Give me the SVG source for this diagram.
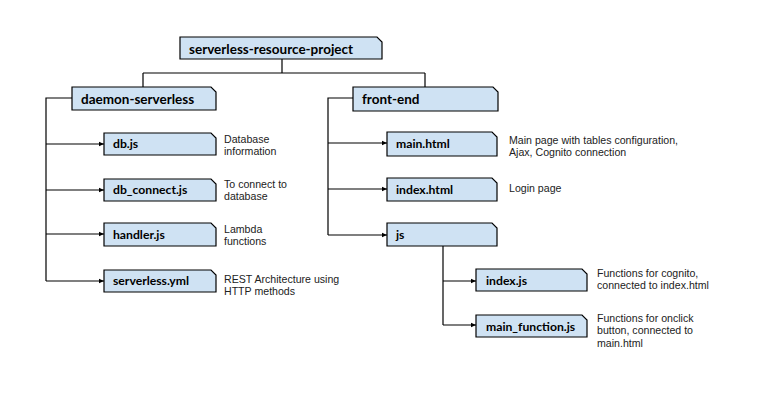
<svg xmlns="http://www.w3.org/2000/svg" width="760" height="400" viewBox="0 0 760 400">
<style>
.box{fill:#cfe2f3;stroke:#000;stroke-width:1.2}
.lbl{font-family:Lato,"Liberation Sans",sans-serif;font-weight:bold;font-size:13.5px;fill:#000}
.file{font-size:12.2px}
.desc{font-family:"Liberation Sans",Arial,sans-serif;font-size:10.6px;fill:#222}
.ln{fill:none;stroke:#000;stroke-width:1.2}
</style>
<defs>
<marker id="ah" markerWidth="6" markerHeight="6" refX="5" refY="3" orient="auto" markerUnits="userSpaceOnUse">
<path d="M0,0.8 L5,3 L0,5.2 Z" fill="#000"/>
</marker>
</defs>
<rect width="760" height="400" fill="#fff"/>
<g id="connectors">
<path class="ln" d="M282,59 V73 M143,73 H425 M143,73 V87 M425,73 V87"/>
<path class="ln" d="M72,98 H46 V281"/>
<path class="ln" d="M46,144 H104" marker-end="url(#ah)"/>
<path class="ln" d="M46,190 H104" marker-end="url(#ah)"/>
<path class="ln" d="M46,234 H104" marker-end="url(#ah)"/>
<path class="ln" d="M46,281 H104" marker-end="url(#ah)"/>
<path class="ln" d="M353,98 H328 V235"/>
<path class="ln" d="M328,143 H387" marker-end="url(#ah)"/>
<path class="ln" d="M328,189 H387" marker-end="url(#ah)"/>
<path class="ln" d="M328,235 H387" marker-end="url(#ah)"/>
<path class="ln" d="M443,246 V325"/>
<path class="ln" d="M443,281 H476" marker-end="url(#ah)"/>
<path class="ln" d="M443,325 H476" marker-end="url(#ah)"/>
</g>
<g id="root">
<path class="box" d="M180,37 H377 L382,42 V59 H180 Z"/>
<text class="lbl" x="189" y="54">serverless-resource-project</text>
</g>
<g id="daemon-serverless">
<path class="box" d="M72,87 H211 L216,92 V110 H72 Z"/>
<text class="lbl" x="81" y="104">daemon-serverless</text>
</g>
<g id="db-js">
<path class="box" d="M104,133 H211 L216,138 V155 H104 Z"/>
<text class="lbl file" x="113" y="148">db.js</text>
<text class="desc"><tspan x="224" y="143">Database</tspan><tspan x="224" y="155">information</tspan></text>
</g>
<g id="db-connect-js">
<path class="box" d="M104,179 H211 L216,184 V201 H104 Z"/>
<text class="lbl file" x="113" y="194">db_connect.js</text>
<text class="desc"><tspan x="224" y="188">To connect to</tspan><tspan x="224" y="200">database</tspan></text>
</g>
<g id="handler-js">
<path class="box" d="M104,223 H211 L216,228 V246 H104 Z"/>
<text class="lbl file" x="113" y="239">handler.js</text>
<text class="desc"><tspan x="224" y="233">Lambda</tspan><tspan x="224" y="245">functions</tspan></text>
</g>
<g id="serverless-yml">
<path class="box" d="M104,270 H211 L216,275 V292 H104 Z"/>
<text class="lbl file" x="113" y="285">serverless.yml</text>
<text class="desc"><tspan x="224" y="283">REST Architecture using</tspan><tspan x="224" y="295">HTTP methods</tspan></text>
</g>
<g id="front-end">
<path class="box" d="M353,87 H493 L498,92 V111 H353 Z"/>
<text class="lbl" x="362" y="104">front-end</text>
</g>
<g id="main-html">
<path class="box" d="M387,132 H492 L497,137 V156 H387 Z"/>
<text class="lbl file" x="396" y="148">main.html</text>
<text class="desc"><tspan x="509" y="144">Main page with tables configuration,</tspan><tspan x="509" y="156">Ajax, Cognito connection</tspan></text>
</g>
<g id="index-html">
<path class="box" d="M387,178 H492 L497,183 V201 H387 Z"/>
<text class="lbl file" x="396" y="194">index.html</text>
<text class="desc" x="509" y="192">Login page</text>
</g>
<g id="js">
<path class="box" d="M387,223 H492 L497,228 V246 H387 Z"/>
<text class="lbl file" x="396" y="239">js</text>
</g>
<g id="index-js">
<path class="box" d="M476,269 H582 L587,274 V291 H476 Z"/>
<text class="lbl file" x="486" y="285">index.js</text>
<text class="desc"><tspan x="597" y="277">Functions for cognito,</tspan><tspan x="597" y="289">connected to index.html</tspan></text>
</g>
<g id="main-function-js">
<path class="box" d="M476,315 H582 L587,320 V337 H476 Z"/>
<text class="lbl file" x="486" y="331">main_function.js</text>
<text class="desc"><tspan x="597" y="322">Functions for onclick</tspan><tspan x="597" y="334">button, connected to</tspan><tspan x="597" y="347">main.html</tspan></text>
</g>
</svg>
